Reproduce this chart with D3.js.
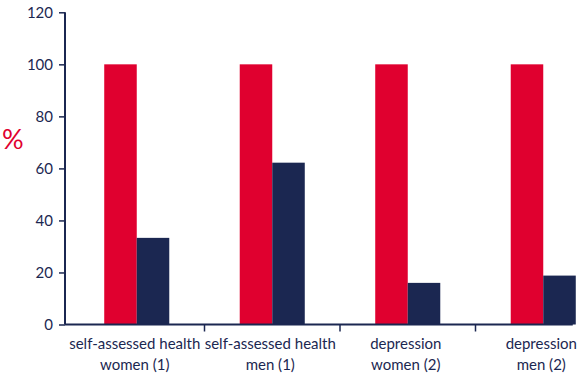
<!DOCTYPE html>
<html>
<head>
<meta charset="utf-8">
<script src="https://cdn.jsdelivr.net/npm/d3@7"></script>
<style>
  html, body { margin: 0; padding: 0; background: #fff; }
  svg { display: block; }
  text { font-family: Lato, "Open Sans", sans-serif; fill: #1b2751; }
</style>
</head>
<body>
<svg id="chart" width="580" height="377"></svg>
<script>
const categories = [
  ["self-assessed health", "women (1)"],
  ["self-assessed health", "men (1)"],
  ["depression", "women (2)"],
  ["depression", "men (2)"]
];
const categoryKeys = ["sah_w", "sah_m", "dep_w", "dep_m"];
const seriesNames = ["reference", "comparison"];
const referenceValues = [100, 100, 100, 100];
const comparisonValues = [33.3, 62.2, 16, 18.8];
const yTicks = [0, 20, 40, 60, 80, 100, 120];

const RED = "#e0002f";
const NAVY = "#1b2751";

const svg = d3.select("#chart");
const axisX = 65;
const yTop = 12.3, yBottom = 324.5;

const y = d3.scaleLinear().domain([0, 120]).range([yBottom, yTop]);
const x = d3.scaleBand().domain(categoryKeys).range([69, 611]).padding(0);
const groupFrac = 0.48;
const x1 = d3.scaleBand().domain(seriesNames)
  .range([x.bandwidth() * (1 - groupFrac) / 2, x.bandwidth() * (1 + groupFrac) / 2]);

const rows = categoryKeys.map((k, i) => ({
  key: k,
  values: [
    { s: "reference", v: referenceValues[i] },
    { s: "comparison", v: comparisonValues[i] }
  ]
}));
const color = d3.scaleOrdinal().domain(seriesNames).range([RED, NAVY]);

// bars
const g = svg.append("g");
g.selectAll("g.grp").data(rows).join("g")
  .attr("class", "grp")
  .attr("transform", d => `translate(${x(d.key)},0)`)
  .selectAll("rect").data(d => d.values).join("rect")
  .attr("x", d => x1(d.s))
  .attr("width", x1.bandwidth())
  .attr("y", d => y(d.v))
  .attr("height", d => y(0) - y(d.v))
  .attr("fill", d => color(d.s));

// y axis
const yAxis = d3.axisLeft(y).tickValues(yTicks).tickSize(6).tickPadding(6);
const ya = svg.append("g").attr("transform", `translate(${axisX},0)`).call(yAxis);
ya.select(".domain").remove();
ya.selectAll(".tick line").attr("stroke", NAVY).attr("stroke-width", 1.5);
ya.selectAll(".tick text").style("font-size", "15px").attr("fill", NAVY)
  .style("font-family", "Lato, sans-serif");
svg.append("line")
  .attr("x1", axisX).attr("x2", axisX)
  .attr("y1", y(120)).attr("y2", y(0))
  .attr("stroke", NAVY).attr("stroke-width", 2);

// x axis baseline
const lastKey = categoryKeys[categoryKeys.length - 1];
const xEnd = x(lastKey) + x1(seriesNames[1]) + x1.bandwidth();
svg.append("line")
  .attr("x1", axisX).attr("x2", xEnd - 3)
  .attr("y1", y(0)).attr("y2", y(0))
  .attr("stroke", NAVY).attr("stroke-width", 2);

// x tick marks at boundaries
svg.selectAll("line.xt").data(categoryKeys.slice(1)).join("line")
  .attr("class", "xt")
  .attr("x1", d => x(d)).attr("x2", d => x(d))
  .attr("y1", y(0)).attr("y2", y(0) + 7)
  .attr("stroke", NAVY).attr("stroke-width", 1.5);

// x labels
const lab = svg.selectAll("text.xl").data(rows).join("text")
  .attr("class", "xl")
  .attr("text-anchor", "middle")
  .style("font-size", "15px")
  .attr("transform", d => `translate(${x(d.key) + x.bandwidth() / 2 - 2},349)`);
lab.each(function(d, i) {
  const t = d3.select(this);
  categories[i].forEach((line, j) => {
    t.append("tspan").attr("x", 0).attr("dy", j === 0 ? 0 : 21).text(line);
  });
});

// y label
svg.append("text")
  .attr("x", 2).attr("y", 149)
  .style("font-size", "27px")
  .style("fill", RED)
  .text("%");
</script>
</body>
</html>
